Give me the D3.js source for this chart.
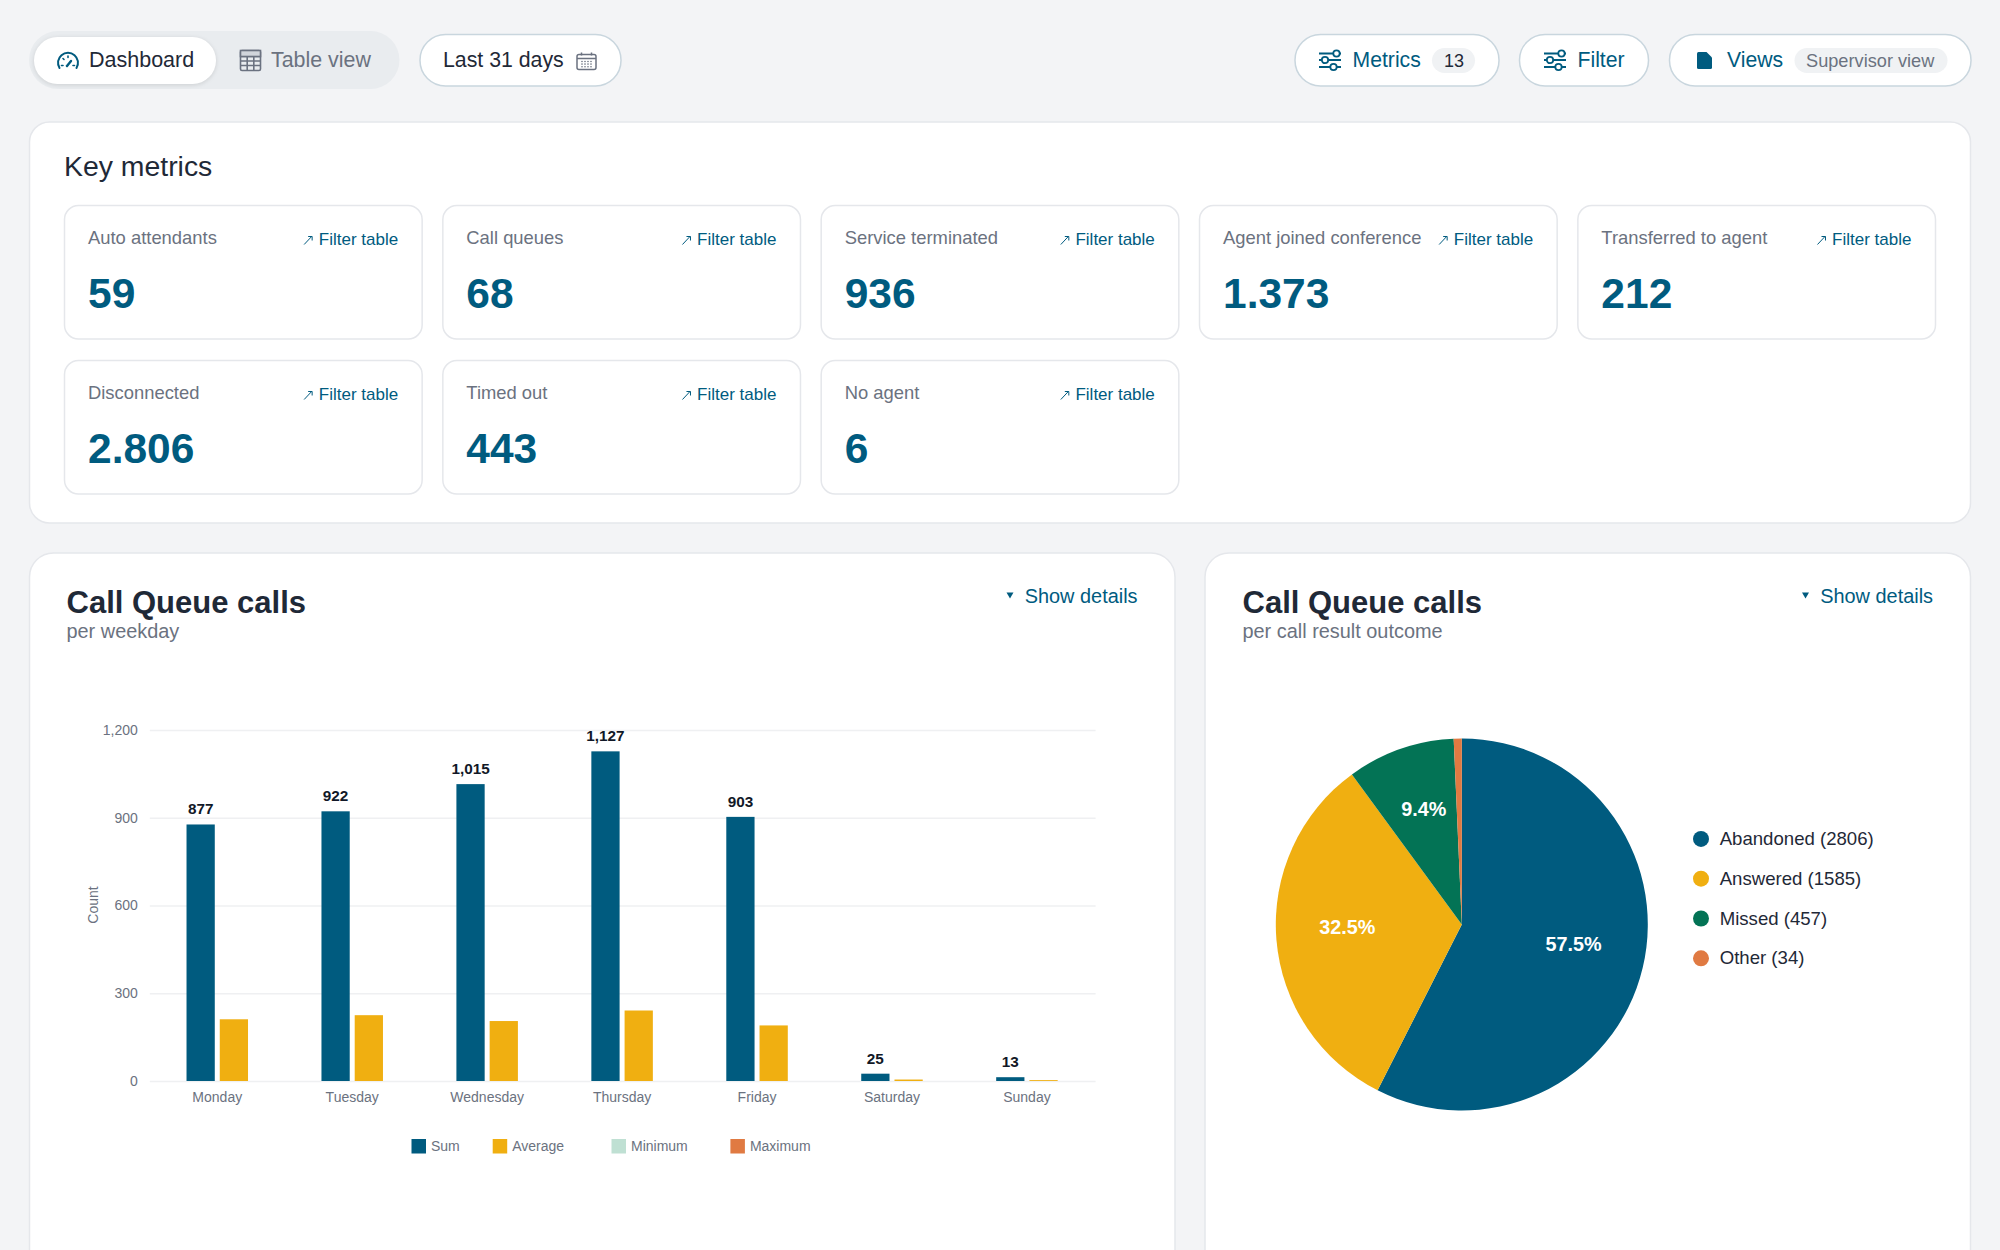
<!DOCTYPE html>
<html>
<head>
<meta charset="utf-8">
<script src="https://cdn.jsdelivr.net/npm/d3@7"></script>
<style>
  html, body { margin: 0; padding: 0; background: #f3f4f6; overflow: hidden; }
  svg { display: block; font-family: "Liberation Sans", Arial, sans-serif; }
</style>
</head>
<body>
<div id="page"></div>
<script>
// key metric tiles
const metricLabels = ['Auto attendants', 'Call queues', 'Service terminated', 'Agent joined conference', 'Transferred to agent',
                      'Disconnected', 'Timed out', 'No agent'];
const metricValues = ['59', '68', '936', '1.373', '212', '2.806', '443', '6'];

// bar chart
const weekdays = ['Monday', 'Tuesday', 'Wednesday', 'Thursday', 'Friday', 'Saturday', 'Sunday'];
const sumValues = [877, 922, 1015, 1127, 903, 25, 13];
const averageValues = [211, 225, 205, 241, 190, 5, 3];
const barTicks = [0, 300, 600, 900, 1200];
const barLegend = ['Sum', 'Average', 'Minimum', 'Maximum'];

// pie chart
const outcomes = ['Abandoned', 'Answered', 'Missed', 'Other'];
const outcomeCounts = [2806, 1585, 457, 34];

const BLUE = '#005b7f', YELLOW = '#f0af11', GREEN = '#037355', ORANGE = '#e07a42', MINT = '#bfe0d3';
const GRAY = '#6b7280', DARK = '#1f2937';

const svg = d3.select('#page').append('svg').attr('width', 2000).attr('height', 1250);

function addText(parent, x, y, str, size, color, opts = {}) {
    return parent.append('text')
        .attr('x', x).attr('y', y)
        .attr('font-size', size)
        .attr('fill', color)
        .attr('font-weight', opts.weight || 400)
        .attr('text-anchor', opts.anchor || 'start')
        .text(str);
}

function addBox(parent, x0, y0, x1, y1, r, fill, stroke, sw = 1.5) {
    return parent.append('rect')
        .attr('x', x0).attr('y', y0)
        .attr('width', x1 - x0).attr('height', y1 - y0)
        .attr('rx', r).attr('fill', fill)
        .attr('stroke', stroke || 'none').attr('stroke-width', sw);
}

// ---- top toolbar ----
const toolbar = svg.append('g');
const PILL = '#c9d6de';

addBox(toolbar, 29, 31, 399.5, 89, 29, '#e9ecef');
addBox(toolbar, 34, 37, 216, 84, 23.5, '#fff').style('filter', 'drop-shadow(0 1px 2px rgba(0,0,0,.12))');
addText(toolbar, 89, 67, 'Dashboard', 21.5, DARK);
addText(toolbar, 271, 67, 'Table view', 21.4, GRAY);

addBox(toolbar, 420, 34.5, 621, 86, 25.5, '#fff', PILL);
addText(toolbar, 443, 67, 'Last 31 days', 21.3, DARK);

addBox(toolbar, 1295, 34.5, 1499, 86, 25.5, '#fff', PILL);
addText(toolbar, 1352.5, 67, 'Metrics', 21.2, BLUE);
addBox(toolbar, 1432, 48, 1475, 73, 12.5, '#f0f2f4');
addText(toolbar, 1454, 66.5, '13', 18, DARK, { anchor: 'middle' });

addBox(toolbar, 1519.5, 34.5, 1648.5, 86, 25.5, '#fff', PILL);
addText(toolbar, 1577.5, 67, 'Filter', 21.2, BLUE);

addBox(toolbar, 1669.5, 34.5, 1971, 86, 25.5, '#fff', PILL);
addText(toolbar, 1727, 67, 'Views', 21.2, BLUE);
addBox(toolbar, 1794.5, 48, 1947.5, 73, 12.5, '#f0f2f4');
addText(toolbar, 1806, 66.5, 'Supervisor view', 18.2, GRAY);

// gauge icon
const gauge = toolbar.append('g').attr('transform', 'translate(68,63)')
    .attr('fill', 'none').attr('stroke', BLUE).attr('stroke-width', 2).attr('stroke-linecap', 'round');
gauge.append('path').attr('d', 'M-8.5,5 A10,10 0 1 1 8.5,5');
gauge.append('path').attr('d', 'M-6.5,2.5 H-5 M5,2.5 H6.5 M-5,-4.5 L-4,-3.5 M0,-7 V-5.5').attr('stroke-width', 1.6);
gauge.append('path').attr('d', 'M-1,3 L3,-2').attr('stroke-width', 2.4);

// table icon
const tableIcon = toolbar.append('g').attr('transform', 'translate(240,50)')
    .attr('fill', 'none').attr('stroke', GRAY).attr('stroke-width', 1.6);
tableIcon.append('rect').attr('x', 0.5).attr('y', 0.5).attr('width', 20).attr('height', 20).attr('rx', 1.5);
tableIcon.append('path').attr('d', 'M0.5,6.5 H20.5 M0.5,11 H20.5 M0.5,15.5 H20.5 M7.2,6.5 V20.5 M13.8,6.5 V20.5');
tableIcon.append('rect').attr('x', 0.5).attr('y', 0.5).attr('width', 20).attr('height', 6).attr('fill', '#d1d5db').attr('stroke', GRAY);

// calendar icon
const calendar = toolbar.append('g').attr('transform', 'translate(576,52)')
    .attr('fill', 'none').attr('stroke', GRAY).attr('stroke-width', 1.5);
calendar.append('rect').attr('x', 1).attr('y', 2.5).attr('width', 19).attr('height', 15).attr('rx', 2);
calendar.append('path').attr('d', 'M1,6.5 H20 M5.5,0.5 V3.5 M15.5,0.5 V3.5');
calendar.selectAll('circle').data(d3.cross(d3.range(4), d3.range(3))).enter().append('circle')
    .attr('cx', d => 6 + d[0] * 3).attr('cy', d => 9.5 + d[1] * 2.6).attr('r', 0.8)
    .attr('fill', GRAY).attr('stroke', 'none');

// sliders icon, used twice
function slidersIcon(x, y) {
    const g = toolbar.append('g').attr('transform', `translate(${x},${y})`)
        .attr('fill', '#fff').attr('stroke', BLUE).attr('stroke-width', 1.8);
    g.append('path').attr('d', 'M0,3.5 H22 M0,10 H22 M0,17 H22');
    g.append('circle').attr('cx', 17.5).attr('cy', 3.5).attr('r', 3.2);
    g.append('circle').attr('cx', 6).attr('cy', 10).attr('r', 3.2);
    g.append('circle').attr('cx', 14.5).attr('cy', 17).attr('r', 3.2);
}
slidersIcon(1319, 50);
slidersIcon(1544, 50);

// document icon
toolbar.append('path').attr('d', 'M1697,53.5 Q1697,52 1698.5,52 L1706.5,52 L1712,57.5 L1712,67.5 Q1712,69 1710.5,69 L1698.5,69 Q1697,69 1697,67.5 Z')
    .attr('fill', BLUE);

// ---- key metrics ----
const metricsPanel = svg.append('g');
addBox(metricsPanel, 29.5, 122, 1970.5, 523, 20, '#fff', '#e5e7eb');
addText(metricsPanel, 64, 176, 'Key metrics', 28.4, DARK);

const tileCol = d3.scaleBand().domain(d3.range(5)).range([64.5, 1935.5]).paddingInner(0.0547);
const tileRow = d3.scaleOrdinal().domain([0, 1]).range([205.5, 360.5]);
const tileW = tileCol.bandwidth(), tileH = 133.5;

const tiles = metricsPanel.selectAll('g.tile')
    .data(metricLabels.map((label, i) => ({ label, value: metricValues[i], col: i % 5, row: Math.floor(i / 5) })))
    .enter().append('g')
    .attr('class', 'tile')
    .attr('transform', d => `translate(${tileCol(d.col)},${tileRow(d.row)})`);

tiles.append('rect').attr('width', tileW).attr('height', tileH).attr('rx', 14)
    .attr('fill', '#fff').attr('stroke', '#e5e7eb').attr('stroke-width', 1.5);
tiles.append('text').attr('x', 23.5).attr('y', 38.5).attr('font-size', 18.4).attr('fill', GRAY).text(d => d.label);
tiles.append('text').attr('x', tileW - 24).attr('y', 39.5).attr('font-size', 17).attr('fill', BLUE)
    .attr('text-anchor', 'end').text('Filter table');
tiles.append('path').attr('d', `M${tileW - 118},39 L${tileW - 110.5},31 M${tileW - 114},31 H${tileW - 110} V35`)
    .attr('fill', 'none').attr('stroke', BLUE).attr('stroke-width', 1);
tiles.append('text').attr('x', 23.5).attr('y', 102.5).attr('font-size', 42.5).attr('font-weight', 700)
    .attr('fill', BLUE).text(d => d.value);

// ---- chart cards ----
function chartCard(x0, x1, textX, subtitle, detailsRight) {
    const g = svg.append('g');
    addBox(g, x0, 553, x1, 1320, 24, '#fff', '#e5e7eb');
    addText(g, textX, 613, 'Call Queue calls', 31, DARK, { weight: 700 });
    addText(g, textX, 638, subtitle, 19.9, GRAY);
    addText(g, detailsRight, 603, 'Show details', 19.9, BLUE, { anchor: 'end' });
    g.append('path').attr('d', d3.line()([[detailsRight - 131, 592.5], [detailsRight - 124, 592.5], [detailsRight - 127.5, 598.5]]) + 'Z')
        .attr('fill', BLUE);
    return g;
}
const barCard = chartCard(29.5, 1175, 66.5, 'per weekday', 1137.5);
const pieCard = chartCard(1205, 1970.5, 1242.5, 'per call result outcome', 1933);

// ---- bar chart ----
const x = d3.scaleBand().domain(weekdays).range([149.8, 1094.4]);
const y = d3.scaleLinear().domain([0, 1200]).range([1081, 730]);
const inner = d3.scaleBand().domain(['Sum', 'Average']).range([0, 61.5]).paddingInner(0.15);
const groupOffset = (x.bandwidth() - 61.5) / 2;

const yAxis = barCard.append('g')
    .attr('transform', 'translate(149.8,0)')
    .call(d3.axisLeft(y).tickValues(barTicks).tickFormat(d3.format(',')).tickSize(-945.8).tickPadding(12));
yAxis.select('.domain').remove();
yAxis.selectAll('line').attr('stroke', '#eff0f2').attr('stroke-width', 1.5);
yAxis.selectAll('text').attr('font-size', 14).attr('fill', GRAY).attr('font-family', 'inherit');

const xAxis = barCard.append('g')
    .attr('transform', 'translate(0,1081)')
    .call(d3.axisBottom(x).tickSize(0).tickPadding(10.7));
xAxis.select('.domain').remove();
xAxis.selectAll('text').attr('font-size', 14).attr('fill', GRAY).attr('font-family', 'inherit');

barCard.append('text')
    .attr('transform', 'translate(98,905) rotate(-90)')
    .attr('text-anchor', 'middle').attr('font-size', 14).attr('fill', GRAY)
    .text('Count');

const groups = barCard.selectAll('g.day')
    .data(weekdays.map((day, i) => ({ day, sum: sumValues[i], avg: averageValues[i] })))
    .enter().append('g')
    .attr('class', 'day')
    .attr('transform', d => `translate(${x(d.day) + groupOffset},0)`);

groups.append('rect')
    .attr('x', inner('Sum')).attr('width', inner.bandwidth())
    .attr('y', d => y(d.sum)).attr('height', d => y(0) - y(d.sum))
    .attr('fill', BLUE);
groups.append('rect')
    .attr('x', inner('Average')).attr('width', inner.bandwidth())
    .attr('y', d => y(d.avg)).attr('height', d => y(0) - y(d.avg))
    .attr('fill', YELLOW);
groups.append('text')
    .attr('x', inner('Sum') + inner.bandwidth() / 2)
    .attr('y', d => y(d.sum) - 10)
    .attr('text-anchor', 'middle').attr('font-size', 15.3).attr('font-weight', 700).attr('fill', '#111827')
    .text(d => d3.format(',')(d.sum));

const legendX = d3.scaleOrdinal().domain(barLegend).range([411.5, 492.7, 611.5, 730.4]);
const legendColor = d3.scaleOrdinal().domain(barLegend).range([BLUE, YELLOW, MINT, ORANGE]);
const barKeys = barCard.selectAll('g.key').data(barLegend).enter().append('g')
    .attr('class', 'key')
    .attr('transform', d => `translate(${legendX(d)},1139)`);
barKeys.append('rect').attr('width', 14.5).attr('height', 14.5).attr('fill', legendColor);
barKeys.append('text').attr('x', 19.5).attr('y', 12).attr('font-size', 14).attr('fill', GRAY).text(d => d);

// ---- pie chart ----
const pieColor = d3.scaleOrdinal().domain(outcomes).range([BLUE, YELLOW, GREEN, ORANGE]);
const total = d3.sum(outcomeCounts);
const pieData = d3.pie().sort(null).value(d => d.count)(outcomes.map((name, i) => ({ name, count: outcomeCounts[i] })));
const arc = d3.arc().innerRadius(0).outerRadius(186);
const labelArc = d3.arc().innerRadius(115).outerRadius(115);

const pie = pieCard.append('g').attr('transform', 'translate(1461.8,924.5)');
pie.selectAll('path').data(pieData).enter().append('path')
    .attr('d', arc).attr('fill', d => pieColor(d.data.name));
pie.selectAll('text').data(pieData.filter(d => d.data.count / total > 0.02)).enter().append('text')
    .attr('transform', d => `translate(${labelArc.centroid(d)})`)
    .attr('y', -7).attr('dy', '.35em')
    .attr('text-anchor', 'middle').attr('font-size', 19.8).attr('font-weight', 700).attr('fill', '#fff')
    .text(d => d3.format('.1%')(d.data.count / total));

const pieLegendY = d3.scalePoint().domain(outcomes).range([838.9, 958.3]);
const pieKeys = pieCard.selectAll('g.pie-key').data(pieData).enter().append('g')
    .attr('class', 'pie-key')
    .attr('transform', d => `translate(1701,${pieLegendY(d.data.name)})`);
pieKeys.append('circle').attr('r', 8).attr('fill', d => pieColor(d.data.name));
pieKeys.append('text').attr('x', 18.7).attr('y', 6).attr('font-size', 18.6).attr('fill', DARK)
    .text(d => `${d.data.name} (${d.data.count})`);
</script>
</body>
</html>
